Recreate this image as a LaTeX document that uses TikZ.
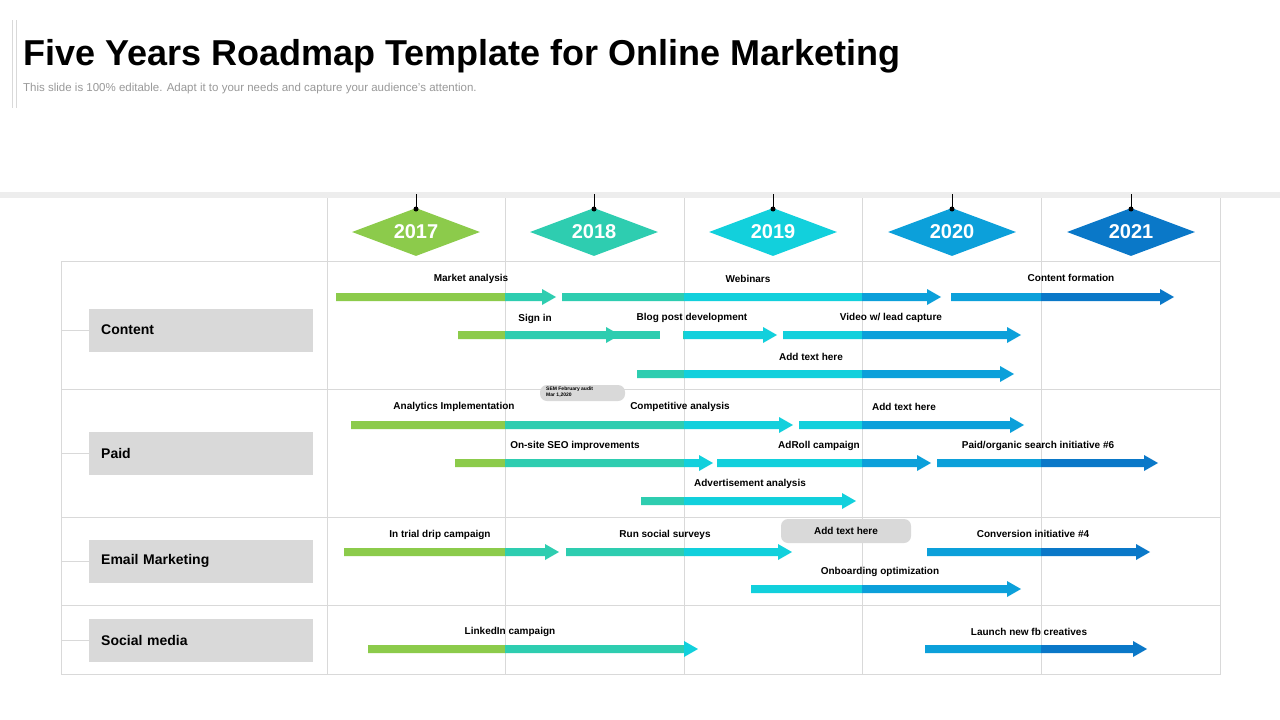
\documentclass[tikz,border=0pt]{standalone}
\usepackage{fontspec}
\setmainfont{Liberation Sans}
\usetikzlibrary{shapes.geometric}
\definecolor{cA}{HTML}{8CCB4B}
\definecolor{cB}{HTML}{2ECDB0}
\definecolor{cC}{HTML}{12D0DC}
\definecolor{cD}{HTML}{0CA0DA}
\definecolor{cE}{HTML}{0A78C8}
\definecolor{gline}{HTML}{D9D9D9}
\definecolor{gbox}{HTML}{D9D9D9}
\newcommand\rmarrow[3]{%
 \foreach \c/\a/\b in {cA/0/505,cB/505/684,cC/684/862,cD/862/1041,cE/1041/1300}{%
  \begin{scope}\clip (\a,0) rectangle (\b,720);
  \fill[\c] (#1,#3-4) -- (#2-14,#3-4) -- (#2-14,#3-8) -- (#2,#3) -- (#2-14,#3+8) -- (#2-14,#3+4) -- (#1,#3+4) -- cycle;
  \end{scope}}}
\newcommand\rmbar[3]{%
 \foreach \c/\a/\b in {cA/0/505,cB/505/684,cC/684/862,cD/862/1041,cE/1041/1300}{%
  \begin{scope}\clip (\a,0) rectangle (\b,720);
  \fill[\c] (#1,#3-4) rectangle (#2,#3+4);
  \end{scope}}}
\tikzset{
 lbl/.style={font=\bfseries\fontsize{10}{12}\selectfont, inner sep=0pt},
 cat/.style={fill=gbox, minimum width=224pt, minimum height=43pt, anchor=west, font=\bfseries\fontsize{14}{16}\selectfont, text width=200pt, align=left, inner xsep=12pt},
 yr/.style={diamond, aspect=2.67, minimum width=128pt, minimum height=48pt, inner sep=0pt, text=white, font=\bfseries\fontsize{20}{22}\selectfont},
 grid/.style={gline, line width=0.8pt},
 tab/.style={fill=gbox, rounded corners=7pt}
}
\begin{document}
\begin{tikzpicture}[x=1pt,y=-1pt]
\useasboundingbox[fill=white] (0,0) rectangle (1280,720);
% header
\draw[gline, line width=1pt] (12,20) -- (12,108) (16,20) -- (16,108);
\node[anchor=west, inner sep=0pt, font=\bfseries\fontsize{36}{40}\selectfont] (title) at (23,56) {Five Years Roadmap Template for Online Marketing};
\node[anchor=west, inner sep=0pt, text=black!40, font=\fontsize{11.5}{13}\selectfont] (sub) at (23,89) {This slide is 100\% editable. Adapt it to your needs and capture your audience’s attention.};
% band
\fill[black!7] (0,192) rectangle (1280,198);
% grid
\foreach \x in {327,505,684,862,1041,1220} \draw[grid] (\x,198) -- (\x,674);
\draw[grid] (61,261) -- (61,674);
\foreach \y in {261,389,517,605,674} \draw[grid] (61,\y) -- (1221,\y);
% years
\foreach \x/\c/\t in {416/cA/2017,594/cB/2018,773/cC/2019,952/cD/2020,1131/cE/2021}{
  \draw[line width=1pt] (\x,194) -- (\x,209);
  \node[yr, fill=\c] (y\t) at (\x,232) {\t};
  \fill (\x,209) circle (2.5pt);
}
% categories
\foreach \n/\y/\t in {c1/330/Content,c2/453/Paid/organic search,c3/561/Email Marketing,c4/640/Social media}{
  \draw[grid] (61,\y) -- (89,\y);
  \node[cat] (\n) at (89,\y) {\t};
}
% tabs
\fill[tab] (540,401) -- (540,385) -- (625,385) -- (625,401) -- cycle;
\node[font=\bfseries\fontsize{5}{6}\selectfont, align=left, inner sep=0pt, anchor=north west] (sem) at (546,387) {SEM February audit\\Mar 1,2020};
\fill[tab] (781,543) -- (781,519) -- (911,519) -- (911,543) -- cycle;
% arrows
\rmarrow{336}{556}{297}
\rmarrow{562}{941}{297}
\rmarrow{951}{1174}{297}
\rmbar{612}{660}{335}
\rmarrow{458}{620}{335}
\rmarrow{683}{777}{335}
\rmarrow{783}{1021}{335}
\rmarrow{637}{1014}{374}
\rmarrow{351}{793}{425}
\rmarrow{799}{1024}{425}
\rmarrow{455}{713}{463}
\rmarrow{717}{931}{463}
\rmarrow{937}{1158}{463}
\rmarrow{641}{856}{501}
\rmarrow{344}{559}{552}
\rmarrow{566}{792}{552}
\rmarrow{927}{1150}{552}
\rmarrow{751}{1021}{589}
\rmarrow{368}{698}{649}
\rmarrow{925}{1147}{649}
% labels
\node[lbl] (l1) at (471,279) {Market analysis};
\node[lbl] (l2) at (748,279) {Webinars};
\node[lbl] (l3) at (1071,278) {Content formation};
\node[lbl] (l4) at (535,319) {Sign in};
\node[lbl] (l5) at (692,318) {Blog post development};
\node[lbl] (l6) at (891,318) {Video w/ lead capture};
\node[lbl] (l7) at (811,357) {Add text here};
\node[lbl] (l8) at (454,407) {Analytics Implementation};
\node[lbl] (l9) at (680,407) {Competitive analysis};
\node[lbl] (l10) at (904,407) {Add text here};
\node[lbl] (l11) at (575,446) {On-site SEO improvements};
\node[lbl] (l12) at (819,446) {AdRoll campaign};
\node[lbl] (l13) at (1038,446) {Paid/organic search initiative \#6};
\node[lbl] (l14) at (750,484) {Advertisement analysis};
\node[lbl] (l15) at (440,535) {In trial drip campaign};
\node[lbl] (l16) at (665,535) {Run social surveys};
\node[lbl] (l17) at (846,531) {Add text here};
\node[lbl] (l18) at (1033,534) {Conversion initiative \#4};
\node[lbl] (l19) at (880,572) {Onboarding optimization};
\node[lbl] (l20) at (510,632) {LinkedIn campaign};
\node[lbl] (l21) at (1029,632) {Launch new fb creatives};
\end{tikzpicture}
\end{document}
